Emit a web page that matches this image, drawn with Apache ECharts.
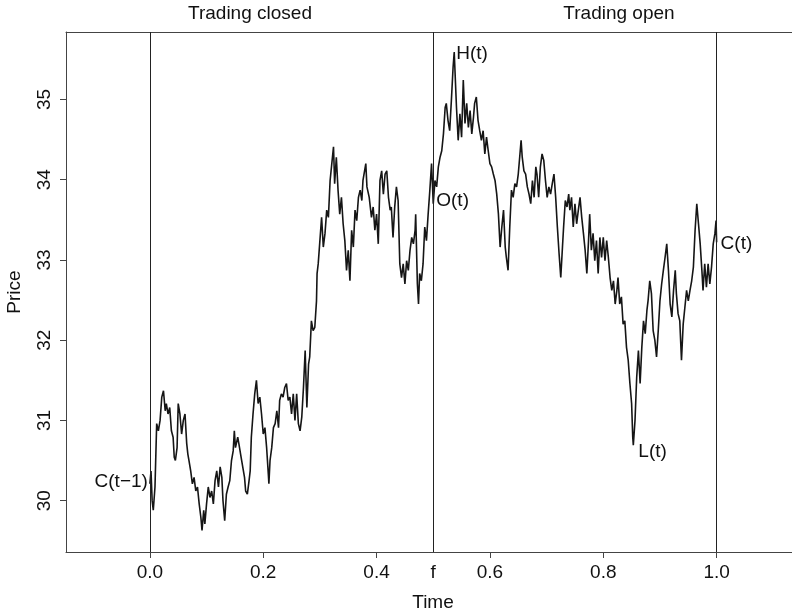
<!DOCTYPE html>
<html>
<head>
<meta charset="utf-8">
<script src="https://cdn.jsdelivr.net/npm/echarts@6/dist/echarts.min.js"></script>
<style>
html,body{margin:0;padding:0;background:#fff;}
#chart{width:792px;height:615px;}
</style>
</head>
<body>
<div id="chart"></div>
<script>
// Price path: [time, price]
const pricePath = [
[0.000,30.21],[0.002,30.37],[0.004,30.00],[0.006,29.88],[0.009,30.17],[0.012,30.96],[0.015,30.87],[0.018,31.00],[0.021,31.29],[0.024,31.37],
[0.027,31.12],[0.029,31.21],[0.032,31.08],[0.035,31.16],[0.038,30.87],[0.041,30.79],[0.043,30.54],[0.045,30.50],[0.048,30.66],[0.050,31.21],
[0.053,31.08],[0.056,30.83],[0.059,31.00],[0.062,31.08],[0.065,30.71],[0.067,30.58],[0.069,30.50],[0.072,30.37],[0.075,30.21],[0.078,30.29],
[0.081,30.12],[0.084,30.17],[0.087,29.96],[0.090,29.79],[0.092,29.63],[0.095,29.88],[0.097,29.71],[0.100,29.96],[0.103,30.17],[0.106,30.04],
[0.109,30.12],[0.112,29.96],[0.115,30.25],[0.118,30.37],[0.121,30.17],[0.124,30.42],[0.127,30.29],[0.129,30.00],[0.132,29.75],[0.135,30.08],
[0.138,30.17],[0.141,30.25],[0.144,30.50],[0.147,30.62],[0.149,30.87],[0.151,30.66],[0.155,30.79],[0.157,30.71],[0.161,30.54],[0.163,30.54],
[0.167,30.29],[0.169,30.12],[0.172,30.08],[0.175,30.25],[0.177,30.37],[0.179,30.79],[0.182,31.08],[0.185,31.33],[0.188,31.50],[0.191,31.21],
[0.194,31.29],[0.197,31.08],[0.200,30.83],[0.203,30.91],[0.206,30.66],[0.209,30.33],[0.210,30.21],[0.212,30.50],[0.215,30.66],[0.218,30.91],
[0.221,30.96],[0.224,31.12],[0.227,30.91],[0.229,31.25],[0.232,31.33],[0.235,31.29],[0.238,31.41],[0.241,31.46],[0.244,31.25],
[0.247,31.29],[0.250,31.08],[0.253,31.33],[0.256,31.00],[0.259,31.33],[0.262,30.96],[0.265,30.87],[0.268,31.04],[0.271,31.41],[0.274,31.87],
[0.277,31.16],[0.280,31.70],[0.282,31.79],[0.285,32.24],[0.288,32.12],[0.291,32.16],[0.294,32.49],[0.295,32.83],[0.297,32.95],[0.300,33.24],
[0.303,33.53],[0.306,33.16],[0.309,33.33],[0.312,33.62],[0.315,33.53],[0.318,33.99],[0.321,34.20],[0.324,34.41],[0.326,33.95],[0.329,34.28],
[0.332,33.87],[0.335,33.57],[0.338,33.78],[0.341,33.45],[0.344,33.24],[0.347,32.87],[0.350,33.12],[0.353,32.74],[0.356,33.37],[0.359,33.16],
[0.362,33.62],[0.365,33.49],[0.368,33.78],[0.371,33.87],[0.374,33.74],[0.376,33.99],[0.381,34.20],[0.383,33.91],[0.387,33.78],[0.391,33.53],
[0.394,33.66],[0.397,33.37],[0.400,33.57],[0.403,33.20],[0.406,33.99],[0.409,34.11],[0.412,33.82],[0.415,34.07],[0.418,34.11],[0.421,33.78],
[0.424,33.62],[0.426,33.66],[0.429,33.28],[0.432,33.66],[0.435,33.91],[0.438,33.74],[0.441,32.95],[0.444,32.78],[0.447,32.95],[0.450,32.70],
[0.453,32.99],[0.456,32.87],[0.459,33.12],[0.462,33.28],[0.465,33.20],[0.468,33.37],[0.469,33.57],[0.472,32.70],[0.474,32.45],[0.476,32.83],
[0.479,32.74],[0.482,32.95],[0.485,33.41],[0.488,33.24],[0.491,33.57],[0.494,33.87],[0.497,34.20],[0.500,33.70],
[0.503,33.99],[0.506,33.91],[0.509,34.16],[0.512,34.28],[0.515,34.36],[0.518,34.57],[0.521,34.90],[0.523,34.95],[0.526,34.74],[0.529,34.61],
[0.532,34.99],[0.535,35.40],[0.537,35.59],[0.539,35.57],[0.541,34.90],[0.544,34.49],[0.547,34.82],[0.550,34.53],[0.553,35.24],[0.556,34.70],
[0.559,34.95],[0.562,34.65],[0.565,34.86],[0.568,34.57],[0.571,34.78],[0.573,34.95],[0.576,35.03],[0.579,34.74],[0.582,34.61],[0.585,34.49],
[0.588,34.61],[0.591,34.32],[0.594,34.53],[0.597,34.36],[0.600,34.20],[0.603,34.16],[0.606,34.07],[0.609,33.99],[0.612,33.82],[0.615,33.57],
[0.618,33.16],[0.621,33.41],[0.624,33.62],[0.627,33.16],[0.629,33.03],[0.632,32.87],[0.635,33.41],[0.638,33.87],[0.641,33.78],[0.644,33.95],
[0.647,33.91],[0.650,34.07],[0.653,34.32],[0.655,34.49],[0.657,34.28],[0.660,34.11],[0.663,34.07],[0.666,33.91],[0.669,33.82],[0.672,33.70],
[0.675,33.99],[0.678,33.78],[0.681,34.16],[0.683,34.07],[0.686,33.78],[0.689,34.16],[0.692,34.32],[0.695,34.24],[0.698,33.99],[0.701,33.78],
[0.704,33.91],[0.707,33.82],[0.710,33.95],[0.713,34.07],[0.716,33.78],[0.719,33.41],[0.722,33.08],[0.725,32.78],[0.728,33.16],[0.730,33.41],
[0.733,33.74],[0.736,33.66],[0.739,33.82],
[0.741,33.62],[0.744,33.78],[0.747,33.41],[0.750,33.70],[0.753,33.45],[0.756,33.62],[0.759,33.78],[0.762,33.53],[0.765,33.33],[0.768,33.12],
[0.771,32.83],[0.774,33.24],[0.776,33.57],[0.779,33.12],[0.782,33.33],[0.785,32.99],[0.788,33.24],[0.791,32.83],[0.794,33.28],[0.797,33.03],
[0.800,33.28],[0.803,32.99],[0.806,33.24],[0.809,33.03],[0.812,32.78],[0.815,32.62],[0.818,32.74],[0.821,32.45],[0.824,32.62],[0.826,32.78],
[0.829,32.45],[0.832,32.54],[0.835,32.20],[0.838,32.24],[0.841,31.91],[0.844,31.75],[0.847,31.46],[0.850,31.21],[0.852,30.79],[0.853,30.69],
[0.856,31.00],[0.859,31.54],[0.862,31.87],[0.865,31.46],[0.868,31.91],[0.871,32.24],[0.874,32.08],[0.877,32.37],[0.879,32.49],[0.882,32.74],
[0.885,32.58],[0.888,32.12],[0.891,32.00],[0.894,31.79],[0.897,32.12],[0.900,32.49],[0.903,32.70],[0.906,32.87],[0.909,33.03],[0.912,33.20],
[0.915,32.87],[0.918,32.45],[0.921,32.29],[0.924,32.62],[0.927,32.87],[0.929,32.58],[0.932,32.33],[0.935,32.24],[0.938,31.75],[0.941,32.20],
[0.944,32.41],[0.947,32.62],[0.950,32.49],[0.953,32.62],[0.956,32.74],[0.959,32.91],[0.962,33.37],[0.965,33.70],[0.968,33.45],[0.971,33.20],
[0.974,32.87],[0.976,32.62],[0.979,32.95],[0.982,32.66],[0.985,32.95],[0.988,32.70],[0.991,32.91],[0.994,33.20],[0.997,33.33],[0.999,33.49],
[1.000,33.22]
];

// Vertical dividers (previous close, f, close)
const dividers = [0, 0.5, 1.0];

// Axis ticks and labels
const xTickValues = [0, 0.2, 0.4, 0.6, 0.8, 1.0];
const xLabelValues = [0, 0.2, 0.4, 0.5, 0.6, 0.8, 1.0];
const xLabelTexts = ['0.0', '0.2', '0.4', 'f', '0.6', '0.8', '1.0'];
const yTickValues = [30, 31, 32, 33, 34, 35];

// Point annotations
const annoTexts = ['C(t\u22121)', 'O(t)', 'H(t)', 'L(t)', 'C(t)'];
const annoTimes = [0, 0.5, 0.537, 0.853, 1.0];
const annoPrices = [30.23, 33.74, 35.57, 30.61, 33.20];
const annoSides = ['left', 'right', 'right', 'right', 'right'];
const annoGaps = [2, 3, 2, 5, 4];

// Panel headings
const headings = ['Trading closed', 'Trading open'];

const FONT = '"Liberation Sans", Arial, Helvetica, sans-serif';
const FS = 19;
const TXT = '#111';
const AX = '#444';

const chart = echarts.init(document.getElementById('chart'), null, {renderer: 'canvas'});

const option = {
  animation: false,
  backgroundColor: '#fff',
  grid: {
    left: 66, top: 32, right: 0, height: 520,
    show: false
  },
  xAxis: [{
    type: 'value', min: -0.148, max: 1.133,
    axisLine: {show: true, onZero: false, lineStyle: {color: AX, width: 1}},
    axisTick: {show: true, length: 6, customValues: xTickValues, lineStyle: {color: AX}},
    axisLabel: {
      customValues: xLabelValues, margin: 11,
      color: TXT, fontFamily: FONT, fontSize: FS,
      formatter: function (v) {
        const i = xLabelValues.findIndex(x => Math.abs(x - v) < 1e-9);
        return i >= 0 ? xLabelTexts[i] : '';
      }
    },
    splitLine: {show: false}
  }, {
    type: 'value', position: 'top', min: -0.148, max: 1.133,
    axisLine: {show: true, onZero: false, lineStyle: {color: AX, width: 1}},
    axisTick: {show: false}, axisLabel: {show: false}, splitLine: {show: false}
  }],
  yAxis: {
    type: 'value', min: 29.36, max: 35.84,
    axisLine: {show: true, onZero: false, lineStyle: {color: AX, width: 1}},
    axisTick: {show: true, length: 6, customValues: yTickValues, lineStyle: {color: AX}},
    axisLabel: {
      customValues: yTickValues, rotate: 90, margin: 12,
      color: TXT, fontFamily: FONT, fontSize: FS,
      formatter: function (v) { return String(v); }
    },
    splitLine: {show: false}
  },
  graphic: [
    {type: 'text', x: 250, y: 14, style: {text: headings[0], fill: TXT, font: FS + 'px ' + FONT, textAlign: 'center', textVerticalAlign: 'middle'}},
    {type: 'text', x: 619, y: 14, style: {text: headings[1], fill: TXT, font: FS + 'px ' + FONT, textAlign: 'center', textVerticalAlign: 'middle'}},
    {type: 'text', x: 433, y: 603, style: {text: 'Time', fill: TXT, font: FS + 'px ' + FONT, textAlign: 'center', textVerticalAlign: 'middle'}},
    {type: 'text', x: 15, y: 292, rotation: Math.PI / 2, style: {text: 'Price', fill: TXT, font: FS + 'px ' + FONT, textAlign: 'center', textVerticalAlign: 'middle'}}
  ],
  series: [
    {
      type: 'line',
      data: pricePath,
      showSymbol: false,
      symbol: 'none',
      lineStyle: {color: '#151515', width: 1.6},
      z: 3,
      markLine: {
        silent: true,
        symbol: ['none', 'none'],
        label: {show: false},
        lineStyle: {color: '#222', width: 1, type: 'solid'},
        data: dividers.map(d => ({xAxis: d}))
      }
    },
    {
      type: 'scatter',
      symbolSize: 0,
      z: 4,
      itemStyle: {opacity: 1},
      data: annoTexts.map((t, i) => ({
        value: [annoTimes[i], annoPrices[i]],
        itemStyle: {opacity: 1},
        label: {
          show: true, formatter: t, position: annoSides[i], distance: annoGaps[i],
          color: TXT, fontFamily: FONT, fontSize: FS, opacity: 1
        }
      }))
    }
  ]
};
chart.setOption(option);
</script>
</body>
</html>
